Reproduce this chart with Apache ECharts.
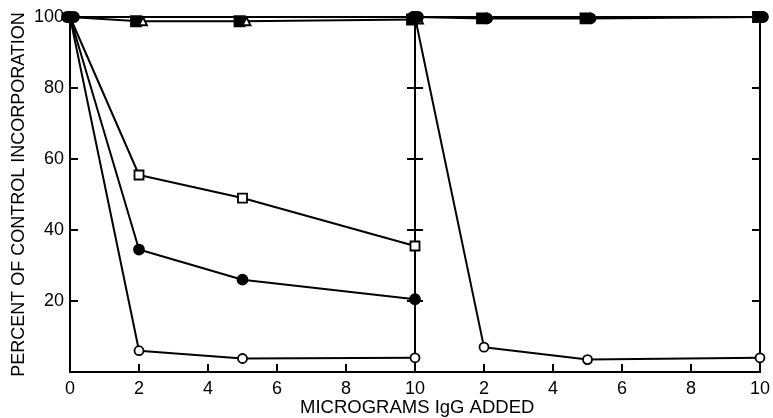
<!DOCTYPE html>
<html><head><meta charset="utf-8">
<script src="https://cdn.jsdelivr.net/npm/echarts@6/dist/echarts.min.js"></script>
<style>html,body{margin:0;padding:0;background:#fff}#c{width:773px;height:418px}</style>
</head><body><div id="c"></div>
<script>
// Data
const doses = [0, 2, 5, 10];
const xTicks = [0, 2, 4, 6, 8, 10];
const yTicks = [20, 40, 60, 80, 100];
const leftFilledSquare = [100, 98.8, 98.8, 99.3];
const leftOpenTriangle = [100, 98.8, 98.8, 99.3];
const leftOpenSquare = [100, 55.5, 49, 35.5];
const leftFilledCircle = [100, 34.5, 26, 20.5];
const leftOpenCircle = [100, 6, 3.8, 4];
const rightFilledSquare = [100, 99.6, 99.6, 100];
const rightFilledCircle = [100, 99.6, 99.6, 100];
const rightOpenCircle = [100, 7, 3.5, 4];
const yTitle = 'PERCENT OF CONTROL INCORPORATION';
const xTitle = 'MICROGRAMS IgG ADDED';

const FONT = 'Liberation Sans';
function mk(vals, symbol, fill, size, gi, opts) {
  const data = vals.map((v, i) => {
    if (i === 0) return { value: [doses[i], v], symbol: 'circle', symbolSize: 10, itemStyle: { color: '#000' } };
    return [doses[i], v];
  });
  return Object.assign({
    type: 'line', xAxisIndex: gi, yAxisIndex: gi === 0 ? 0 : 2,
    data, symbol, symbolSize: size, showAllSymbol: true,
    lineStyle: { color: '#000', width: 2 },
    itemStyle: { color: fill, borderColor: '#000', borderWidth: 1.8 },
    z: 5
  }, opts || {});
}

const xAx = (gi, showZero) => ({
  type: 'value', gridIndex: gi, min: 0, max: 10, interval: 2,
  axisLine: { show: true, lineStyle: { color: '#000', width: 2 } },
  axisTick: { show: true, inside: true, length: 8, lineStyle: { color: '#000', width: 2 } },
  splitLine: { show: false },
  axisLabel: { color: '#000', fontFamily: FONT, fontSize: 18, margin: 8,
    formatter: v => (v === 0 && !showZero) ? '' : String(v) }
});
const yAx = (gi, pos, showLabel) => ({
  type: 'value', gridIndex: gi, position: pos, min: 0, max: 100, interval: 20,
  axisLine: { show: true, lineStyle: { color: '#000', width: 2 } },
  axisTick: { show: true, inside: true, length: 8, lineStyle: { color: '#000', width: 2 } },
  splitLine: { show: false },
  axisLabel: { show: showLabel, color: '#000', fontFamily: FONT, fontSize: 18, margin: 6,
    formatter: v => v === 0 ? '' : String(v) }
});

const option = {
  animation: false,
  backgroundColor: '#fff',
  grid: [
    { left: 70, top: 17, width: 345, height: 355, show: true, borderColor: '#000', borderWidth: 2, backgroundColor: 'transparent' },
    { left: 415, top: 17, width: 346, height: 355, show: true, borderColor: '#000', borderWidth: 2, backgroundColor: 'transparent' }
  ],
  xAxis: [xAx(0, true), xAx(1, false)],
  yAxis: [
    Object.assign(yAx(0, 'left', true), {
      name: yTitle, nameLocation: 'middle', nameGap: 42, nameRotate: 90,
      nameTextStyle: { color: '#000', fontFamily: FONT, fontSize: 18 }
    }),
    yAx(0, 'right', false),
    yAx(1, 'left', false),
    yAx(1, 'right', false)
  ],
  graphic: [{
    type: 'text', left: 300, top: 398,
    style: { text: xTitle, fill: '#000', font: '18.5px "Liberation Sans"' }
  }],
  series: [
    mk(leftOpenSquare, 'rect', '#fff', 9, 0),
    mk(leftFilledCircle, 'circle', '#000', 10, 0),
    mk(leftOpenCircle, 'circle', '#fff', 9, 0),
    mk(leftFilledSquare, 'rect', '#000', 10, 0, { symbolOffset: [-3, 0] }),
    mk(leftOpenTriangle, 'triangle', '#fff', 8, 0, { symbolOffset: [4, 0], lineStyle: { width: 0 } }),
    mk(rightOpenCircle, 'circle', '#fff', 9, 1),
    mk(rightFilledSquare, 'rect', '#000', 10, 1, { symbolOffset: [-2, 0] }),
    mk(rightFilledCircle, 'circle', '#000', 10, 1, { symbolOffset: [3, 0], lineStyle: { width: 0 } })
  ]
};
const chart = echarts.init(document.getElementById('c'));
chart.setOption(option);
</script></body></html>
